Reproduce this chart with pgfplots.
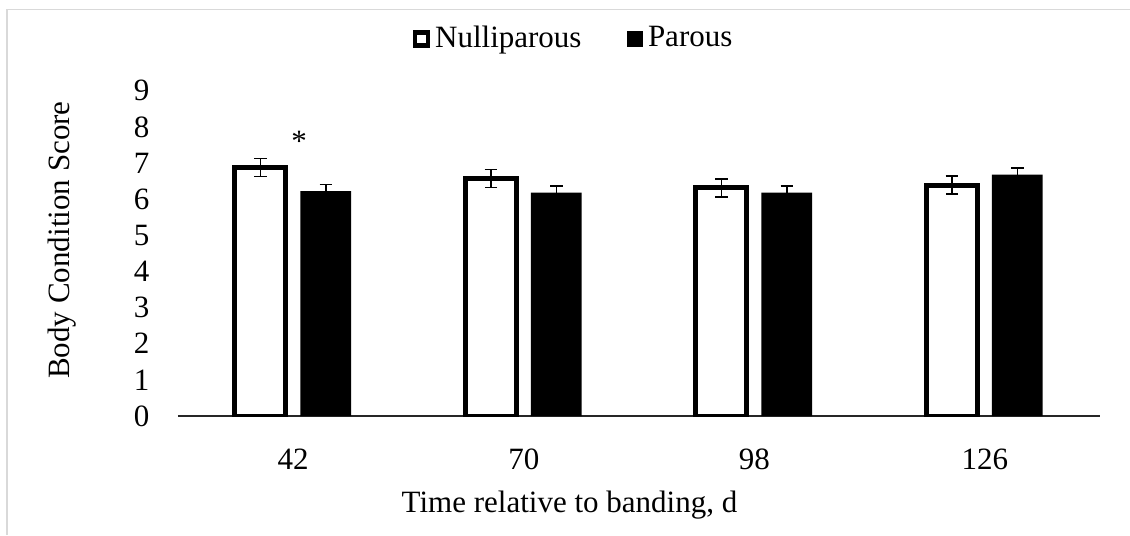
\documentclass[border=0pt]{standalone}
\usepackage{pgfplots}
\pgfplotsset{compat=1.18}
\usepackage{fontspec}
\setmainfont{Liberation Serif}
\begin{document}
\fontsize{12.4}{14.5}\selectfont
\begin{tikzpicture}
\path[use as bounding box] (-71.2pt,-47.6pt) rectangle (380.8pt,166.4pt);
\draw[color={rgb,255:red,217;green,217;blue,217}, line width=0.75pt] (-68.4pt,-47.6pt) -- (-68.4pt,162.6pt) -- (380.8pt,162.6pt);
\begin{axis}[
  at={(0pt,0pt)}, anchor=south west,
  scale only axis,
  width=368.8pt, height=130.1pt,
  font=\fontsize{12.4}{14.5}\selectfont,
  xmin=-0.5, xmax=3.5, ymin=0, ymax=9,
  enlargelimits=false,
  axis x line*=bottom, axis y line*=left,
  x axis line style={black!85, line width=0.5pt},
  y axis line style={draw=none},
  tick style={draw=none},
  major tick length=0pt,
  xtick={0,1,2,3},
  xticklabels={42,70,98,126},
  ytick={0,1,2,3,4,5,6,7,8,9},
  /pgf/number format/assume math mode=true,
  yticklabel style={anchor=east, xshift=-7.1pt},
  xticklabel style={anchor=north, yshift=-8.7pt},
  xlabel={Time relative to banding, d},
  ylabel={Body Condition Score},
  xlabel style={at={(axis description cs:0.4246,0)}, anchor=center, yshift=-35.6pt},
  ylabel style={at={(axis description cs:0,0.541)}, anchor=center, yshift=46.4pt},
  legend columns=2,
  legend style={draw=none, fill=none, at={(0.4306,1.159)}, anchor=center,
    font=\fontsize{12.4}{14.5}\selectfont,
    /tikz/every even column/.append style={column sep=16pt}},
  error bars/error bar style={line width=0.6pt, black},
  error bars/error mark options={rotate=90, mark size=2.5pt, line width=0.6pt, black},
]
\addplot[ybar, bar width=0.221, bar shift=0, draw=black, line width=2pt, fill=white,
  legend image code/.code={\draw[draw=black, fill=white, line width=1.8pt] (0pt,-2.6pt) rectangle (5.2pt,2.6pt);},
  error bars/.cd, y dir=both, y explicit,
  ] coordinates {(-0.143,6.88) +- (0,0.25) (0.857,6.57) +- (0,0.25) (1.857,6.31) +- (0,0.25) (2.857,6.39) +- (0,0.25)};
\addlegendentry{Nulliparous}
\addplot[ybar, bar width=0.221, bar shift=0, draw=none, fill=black,
  legend image code/.code={\fill[black] (-0.9pt,-3.3pt) rectangle (5.7pt,3.3pt);},
  error bars/.cd, y dir=both, y explicit,
  ] coordinates {(0.141,6.22) +- (0,0.19) (1.141,6.18) +- (0,0.19) (2.141,6.18) +- (0,0.18) (3.141,6.68) +- (0,0.18)};
\addlegendentry{Parous}
\node[anchor=base, inner sep=0pt] at (axis cs:0.026,7.32) {*};
\end{axis}
\end{tikzpicture}
\end{document}
